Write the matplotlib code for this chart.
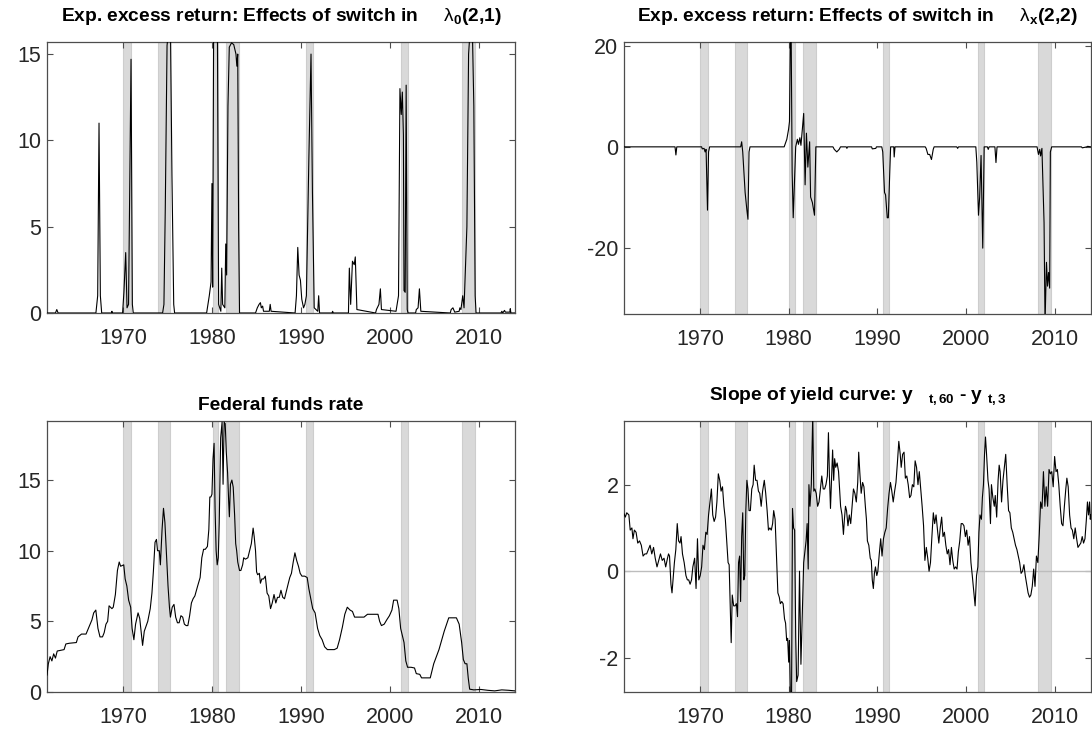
import matplotlib
matplotlib.use("Agg")
import matplotlib.pyplot as plt

plt.rcParams['font.family'] = ['Liberation Sans', 'DejaVu Sans']
plt.rcParams['mathtext.fontset'] = 'custom'
plt.rcParams['mathtext.rm'] = 'Liberation Sans'
plt.rcParams['mathtext.bf'] = 'Liberation Sans:bold'
plt.rcParams['mathtext.it'] = 'Liberation Sans:italic'
plt.rcParams['axes.unicode_minus'] = False

# ---------------- data ----------------
recessions_start = [1970.0, 1973.95, 1980.08, 1981.6, 1990.62, 2001.3, 2008.1]
recessions_end   = [1970.95, 1975.32, 1980.7, 1983.07, 1991.33, 2002.04, 2009.6]

# Exp. excess return: effects of switch in lambda_0(2,1)
lam0_t = [1961.45, 1962.4, 1962.55, 1962.7, 1966.95, 1967.15, 1967.3, 1967.45, 1967.6,
          1968.7, 1968.75, 1968.8,
          1969.95, 1970.1, 1970.3, 1970.45, 1970.62, 1970.9, 1971.05, 1971.15,
          1974.45, 1974.6, 1974.75, 1974.95, 1975.15, 1975.35, 1975.5, 1975.7, 1975.8,
          1979.4, 1979.7, 1979.9, 1980.0, 1980.08, 1980.2, 1980.6, 1980.75,
          1981.0, 1981.1, 1981.2, 1981.45, 1981.55, 1981.65, 1981.8, 1981.95,
          1982.2, 1982.45, 1982.7, 1982.8, 1982.9, 1983.0, 1983.1,
          1984.9, 1985.1, 1985.3, 1985.45, 1985.55, 1985.7, 1985.8, 1986.45, 1986.55, 1986.65,
          1989.35, 1989.5, 1989.65, 1989.8, 1989.95, 1990.1, 1990.3, 1990.45, 1990.62,
          1990.9, 1991.14, 1991.3, 1991.5, 1991.9, 1992.0, 1992.1, 1993.5, 1993.57, 1993.65,
          1995.35, 1995.45, 1995.6, 1995.8, 1996.0, 1996.12, 1996.3,
          1998.4, 1998.5, 1998.78, 1998.94, 1999.06,
          2000.7, 2000.82, 2000.98, 2001.14, 2001.29, 2001.41, 2001.53, 2001.6, 2001.73,
          2001.84, 2001.96, 2002.05,
          2002.9, 2002.98, 2003.18, 2003.33, 2003.49,
          2006.8, 2006.9, 2007.1, 2007.3, 2007.8, 2007.88, 2008.0, 2008.2, 2008.35,
          2008.67, 2008.86, 2009.05, 2009.3, 2009.45, 2009.6, 2009.7,
          2012.5, 2012.6, 2012.7, 2012.9, 2013.0, 2013.5, 2013.55, 2013.62, 2014.08]
lam0_v = [0, 0, 0.2, 0, 0, 1.0, 11.0, 1.0, 0,
          0, 0.1, 0,
          0, 1.2, 3.5, 0.3, 0.5, 14.7, 0.5, 0,
          0, 0.5, 6.0, 15.5, 16.5, 15.8, 8.0, 0.5, 0,
          0, 1.0, 1.8, 7.5, 1.5, 18.0, 18.0, 0.5,
          0.1, 2.6, 0.5, 0.3, 4.0, 2.2, 12.0, 15.4,
          15.65, 15.55, 15.0, 14.3, 15.0, 5.0, 0,
          0, 0.3, 0.5, 0.6, 0.3, 0.4, 0.1, 0.1, 0.5, 0.1,
          0, 1.0, 3.8, 2.2, 1.9, 0.8, 0.3, 0.5, 1.0,
          9.0, 15.0, 7.0, 0.3, 0.1, 1.0, 0, 0, 0.1, 0,
          0, 2.6, 0.5, 3.0, 2.8, 3.25, 0.2,
          0, 0.2, 0.5, 1.4, 0.2,
          0.1, 0.5, 1.0, 13.0, 11.5, 12.8, 10.3, 1.3, 1.2,
          13.2, 0.2, 0,
          0, 0.2, 0.3, 1.4, 0.1,
          0, 0.2, 0.3, 0.05, 0.1, 0.3, 0.2, 1.0, 0.3,
          5.0, 15.0, 16.5, 16.0, 12.0, 1.0, 0,
          0, 0.1, 0, 0.15, 0.05, 0.05, 0.25, 0, 0]

# Exp. excess return: effects of switch in lambda_x(2,2)
lamx_t = [1961.45, 1967.2, 1967.3, 1967.4,
          1970.2, 1970.27, 1970.47, 1970.59, 1970.7, 1970.86, 1970.98, 1971.1,
          1974.6, 1974.71, 1974.83, 1975.1, 1975.3, 1975.42, 1975.54, 1975.65,
          1979.5, 1979.8, 1980.0, 1980.1, 1980.2, 1980.29, 1980.4, 1980.52, 1980.68, 1980.8,
          1980.99, 1981.11, 1981.27, 1981.39, 1981.55, 1981.7, 1981.86, 1982.01, 1982.17,
          1982.37, 1982.48, 1982.68, 1982.92, 1983.07,
          1985.0, 1985.15, 1985.43, 1985.7, 1985.85, 1986.5, 1986.57, 1986.65,
          1989.35, 1989.43, 1989.83, 1989.9,
          1990.5, 1990.61, 1990.81, 1990.93, 1991.12, 1991.24, 1991.4, 1991.5, 1991.85, 1991.9, 1991.99,
          1995.4, 1995.5, 1995.7, 1995.9, 1996.1, 1996.3, 1996.4,
          1998.95, 1999.05, 1999.15,
          2001.1, 2001.21, 2001.4, 2001.53, 2001.69, 2001.88, 2002.04,
          2002.4, 2002.5, 2002.6, 2003.25, 2003.37, 2003.49,
          2008.0, 2008.16, 2008.3, 2008.4, 2008.55, 2008.79, 2008.9, 2009.06, 2009.18,
          2009.3, 2009.42, 2009.5, 2009.65,
          2013.0, 2013.1, 2013.6, 2013.7, 2014.08]
lamx_v = [0, 0, -1.6, 0,
          0, -0.4, -0.3, -1.0, -0.5, -12.5, -1.0, 0,
          0, 1.0, -1.0, -9.0, -12.5, -14.3, -1.0, 0,
          0, 1.5, 3.5, 5.0, 22.0, 22.0, -5.0, -14.0, -6.0, 0,
          1.5, 0.5, 1.8, 0.3, 3.5, 6.6, -7.5, 2.7, -4.0,
          1.0, -9.9, -11.0, -13.5, 0,
          0, -0.5, -1.0, -0.5, 0, 0, -0.3, 0,
          0, -0.4, -0.3, 0,
          0, -1.0, -9.0, -9.5, -14.0, -14.0, -5.0, 0, 0, -2.0, 0,
          0, -0.3, -1.5, -1.5, -2.5, -0.5, 0,
          0, -0.3, 0,
          0, -3.0, -13.5, -10.0, -1.7, -20.0, 0,
          0, -0.5, 0, 0, -3.1, 0,
          0, -1.5, -0.5, -1.8, -0.3, -15.0, -35.0, -22.8, -27.5,
          -24.8, -27.9, -1.0, 0,
          0, -0.2, 0, 0.1, 0]

# Federal funds rate
ffr_t = [1961.45, 1961.6, 1961.8, 1962.0, 1962.2, 1962.4, 1962.6, 1963.0, 1963.37, 1963.57,
         1963.96, 1964.75, 1964.94, 1965.33, 1965.84, 1966.1, 1966.5, 1966.7, 1966.94, 1967.18,
         1967.41, 1967.69, 1967.88, 1968.08, 1968.27, 1968.43, 1968.75, 1968.9, 1969.14, 1969.37,
         1969.57, 1969.73, 1970.08, 1970.24, 1970.43, 1970.63, 1970.86, 1971.02, 1971.22, 1971.41,
         1971.69, 1971.88, 1972.2, 1972.39, 1972.78, 1973.06, 1973.25, 1973.41, 1973.6, 1973.76,
         1973.88, 1974.08, 1974.2, 1974.39, 1974.55, 1974.71, 1974.86, 1975.06, 1975.22, 1975.33,
         1975.53, 1975.73, 1975.92, 1976.12, 1976.31, 1976.51, 1976.71, 1976.9, 1977.1, 1977.29,
         1977.49, 1977.69, 1977.88, 1978.08, 1978.39, 1978.67, 1978.86, 1979.06, 1979.25, 1979.49,
         1979.65, 1979.76, 1979.88, 1980.0, 1980.12, 1980.24, 1980.35, 1980.47, 1980.59, 1980.71,
         1980.82, 1980.98, 1981.14, 1981.25, 1981.37, 1981.49, 1981.61, 1981.76, 1981.88, 1981.96,
         1982.08, 1982.24, 1982.39, 1982.55, 1982.67, 1982.78, 1982.9, 1983.1, 1983.25, 1983.45,
         1983.57, 1983.76, 1984.04, 1984.24, 1984.43, 1984.63, 1984.75, 1984.9, 1985.02, 1985.14,
         1985.33, 1985.45, 1985.61, 1985.8, 1986.0, 1986.2, 1986.39, 1986.59, 1986.78, 1986.98,
         1987.18, 1987.37, 1987.57, 1987.76, 1987.96, 1988.16, 1988.35, 1988.55, 1988.75, 1988.94,
         1989.14, 1989.33, 1989.53, 1989.73, 1989.92, 1990.12, 1990.43, 1990.71, 1990.9, 1991.14,
         1991.33, 1991.6, 1991.88, 1992.12, 1992.39, 1992.67, 1992.98, 1993.37, 1993.76, 1994.08,
         1994.35, 1994.67, 1994.94, 1995.22, 1995.53, 1995.8, 1996.04, 1996.51, 1997.1, 1997.49,
         1997.88, 1998.27, 1998.67, 1998.86, 1999.06, 1999.37, 1999.65, 1999.96, 2000.24, 2000.43,
         2000.82, 2001.02, 2001.22, 2001.41, 2001.6, 2001.8, 2002.0, 2002.39, 2002.78, 2002.98,
         2003.37, 2003.57, 2004.55, 2004.94, 2005.53, 2006.12, 2006.63, 2007.49, 2007.8, 2008.08,
         2008.27, 2008.47, 2008.67, 2008.82, 2008.98, 2009.45, 2010.24, 2011.02, 2011.8, 2012.59,
         2013.37, 2014.08]
ffr_v = [1.2, 2.0, 2.5, 2.2, 2.7, 2.4, 2.9, 2.95, 3.0, 3.4,
         3.45, 3.5, 3.9, 4.1, 4.1, 4.5, 5.1, 5.6, 5.8, 4.5,
         3.9, 3.9, 4.2, 4.8, 5.0, 6.1, 5.9, 6.0, 6.9, 8.6,
         9.2, 8.9, 9.0, 8.0, 7.5, 6.5, 6.0, 4.5, 3.7, 4.8,
         5.6, 5.2, 3.3, 4.3, 5.0, 5.9, 7.0, 8.5, 10.6, 10.8,
         10.0, 10.0, 9.0, 11.5, 13.0, 12.0, 10.0, 7.5, 6.0, 5.3,
         6.0, 6.2, 5.3, 4.9, 4.9, 5.4, 5.3, 4.8, 4.7, 4.7,
         5.4, 6.3, 6.6, 6.8, 7.5, 8.1, 9.5, 10.1, 10.1, 10.3,
         11.5, 13.8, 13.8, 14.0, 16.5, 17.6, 13.0, 10.0, 9.0, 9.5,
         12.0, 18.0, 19.1, 14.7, 19.1, 19.0, 17.0, 15.5, 13.5, 12.4,
         14.7, 15.0, 14.5, 12.5, 10.5, 10.0, 9.2, 8.6, 8.6, 9.0,
         9.5, 9.4, 9.5, 10.0, 10.5, 11.6, 11.0, 10.0, 8.5, 8.3,
         8.4, 7.7, 8.0, 8.0, 8.2, 7.0, 6.8, 5.9, 6.3, 6.9,
         6.3, 6.7, 6.7, 7.2, 6.7, 6.6, 7.1, 7.6, 8.1, 8.4,
         9.2, 9.85, 9.3, 8.9, 8.4, 8.2, 8.2, 8.1, 7.3, 6.5,
         5.9, 5.6, 4.5, 4.0, 3.7, 3.2, 3.0, 3.0, 3.0, 3.1,
         3.7, 4.6, 5.5, 6.0, 5.8, 5.7, 5.3, 5.3, 5.3, 5.5,
         5.5, 5.5, 5.5, 5.0, 4.7, 4.8, 5.1, 5.4, 5.8, 6.5,
         6.5, 5.9, 4.5, 4.0, 3.5, 2.2, 1.75, 1.75, 1.7, 1.3,
         1.25, 1.0, 1.0, 2.0, 3.0, 4.3, 5.25, 5.25, 4.8, 3.5,
         2.3, 2.0, 2.0, 1.0, 0.2, 0.15, 0.18, 0.12, 0.08, 0.15,
         0.12, 0.08]

# Slope of yield curve: y(t,60) - y(t,3)
slope_t = [1961.44, 1961.6, 1961.76, 1962.0, 1962.15, 1962.34, 1962.46, 1962.62, 1962.81, 1963.0,
           1963.2, 1963.4, 1963.6, 1963.8, 1964.0, 1964.19, 1964.39, 1964.58, 1964.78, 1964.97,
           1965.17, 1965.37, 1965.56, 1965.76, 1965.96, 1966.15, 1966.35, 1966.47, 1966.58, 1966.74,
           1966.86, 1966.98, 1967.13, 1967.29, 1967.45, 1967.6, 1967.76, 1967.88, 1968.04, 1968.23,
           1968.43, 1968.59, 1968.74, 1968.9, 1969.06, 1969.21, 1969.41, 1969.57, 1969.73, 1969.88,
           1970.04, 1970.2, 1970.35, 1970.51, 1970.67, 1970.82, 1970.98, 1971.14, 1971.3, 1971.45,
           1971.61, 1971.77, 1971.92, 1972.08, 1972.24, 1972.39, 1972.55, 1972.71, 1972.87, 1973.06,
           1973.18, 1973.3, 1973.42, 1973.53, 1973.65, 1973.81, 1973.97, 1974.12, 1974.24, 1974.36,
           1974.48, 1974.59, 1974.71, 1974.83, 1974.95, 1975.06, 1975.18, 1975.3, 1975.42, 1975.54,
           1975.69, 1975.85, 1976.0, 1976.12, 1976.28, 1976.44, 1976.6, 1976.75, 1976.91, 1977.07,
           1977.26, 1977.42, 1977.58, 1977.73, 1977.89, 1978.05, 1978.2, 1978.32, 1978.48, 1978.64,
           1978.79, 1978.95, 1979.07, 1979.23, 1979.38, 1979.54, 1979.66, 1979.78, 1979.89, 1980.01,
           1980.09, 1980.21, 1980.33, 1980.44, 1980.56, 1980.68, 1980.8, 1980.91, 1981.07, 1981.23,
           1981.39, 1981.54, 1981.7, 1981.86, 1981.97, 1982.09, 1982.21, 1982.29, 1982.41, 1982.56,
           1982.72, 1982.84, 1982.96, 1983.11, 1983.27, 1983.43, 1983.58, 1983.74, 1983.9, 1984.06,
           1984.21, 1984.37, 1984.49, 1984.6, 1984.72, 1984.84, 1984.96, 1985.08, 1985.19, 1985.31,
           1985.47, 1985.63, 1985.74, 1985.86, 1986.02, 1986.18, 1986.29, 1986.41, 1986.53, 1986.69,
           1986.84, 1987.0, 1987.16, 1987.31, 1987.47, 1987.63, 1987.79, 1987.9, 1988.02, 1988.18,
           1988.34, 1988.49, 1988.65, 1988.77, 1988.88, 1989.04, 1989.2, 1989.32, 1989.43, 1989.55,
           1989.67, 1989.79, 1989.94, 1990.06, 1990.22, 1990.38, 1990.53, 1990.69, 1990.85, 1991.0,
           1991.16, 1991.32, 1991.48, 1991.63, 1991.79, 1991.95, 1992.1, 1992.26, 1992.42, 1992.58,
           1992.69, 1992.85, 1993.01, 1993.16, 1993.32, 1993.48, 1993.64, 1993.79, 1993.95, 1994.11,
           1994.26, 1994.42, 1994.58, 1994.73, 1994.89, 1995.05, 1995.21, 1995.36, 1995.52, 1995.68,
           1995.83, 1995.99, 1996.15, 1996.31, 1996.46, 1996.62, 1996.78, 1996.93, 1997.09, 1997.25,
           1997.4, 1997.56, 1997.72, 1997.88, 1998.03, 1998.19, 1998.35, 1998.5, 1998.66, 1998.82,
           1998.98, 1999.13, 1999.29, 1999.45, 1999.6, 1999.76, 1999.92, 2000.07, 2000.23, 2000.39,
           2000.55, 2000.7, 2000.86, 2001.02, 2001.18, 2001.33, 2001.45, 2001.57, 2001.73, 2001.84,
           2001.96, 2002.08, 2002.19, 2002.31, 2002.47, 2002.59, 2002.75, 2002.86, 2003.02, 2003.18,
           2003.29, 2003.45, 2003.61, 2003.73, 2003.84, 2004.0, 2004.16, 2004.32, 2004.47, 2004.63,
           2004.79, 2004.94, 2005.1, 2005.26, 2005.41, 2005.57, 2005.73, 2005.89, 2006.04, 2006.2,
           2006.36, 2006.52, 2006.67, 2006.83, 2006.99, 2007.15, 2007.3, 2007.46, 2007.62, 2007.77,
           2007.93, 2008.09, 2008.25, 2008.4, 2008.56, 2008.72, 2008.88, 2009.03, 2009.19, 2009.35,
           2009.5, 2009.66, 2009.82, 2009.98, 2010.14, 2010.29, 2010.45, 2010.61, 2010.77, 2010.92,
           2011.08, 2011.24, 2011.36, 2011.51, 2011.67, 2011.83, 2011.98, 2012.14, 2012.3, 2012.46,
           2012.61, 2012.77, 2012.93, 2013.09, 2013.24, 2013.4, 2013.56, 2013.68, 2013.8, 2013.92,
           2014.0, 2014.08]
slope_v = [1.33, 1.25, 1.35, 1.3, 0.95, 1.0, 0.75, 0.95, 0.9, 0.65,
           0.7, 0.6, 0.35, 0.4, 0.4, 0.5, 0.6, 0.4, 0.55, 0.3,
           0.1, 0.25, 0.4, 0.25, 0.3, 0.1, 0.3, 0.4, 0.35, -0.3,
           -0.5, -0.2, 0.2, 0.5, 1.1, 0.7, 0.65, 0.8, 0.4, 0.2,
           -0.1, -0.2, -0.2, -0.3, -0.2, 0.1, 0.3, -0.4, 0.75, -0.2,
           -0.1, 0.1, 0.6, 0.5, 0.9, 0.85, 1.3, 1.6, 1.9, 1.3,
           1.15, 1.25, 1.6, 2.25, 2.1, 1.85, 1.95, 1.5, 1.2, 0.6,
           0.2, 0.15, -0.8, -1.65, -0.55, -0.8, -0.8, -0.75, -1.05, 0.2,
           0.35, -0.7, 0.8, 1.35, -0.2, -0.1, 1.4, 2.1, 1.9, 1.4,
           1.4, 1.9, 2.0, 2.45, 2.1, 2.1, 1.85, 1.8, 1.5, 1.85,
           2.1, 1.8, 1.4, 0.95, 1.0, 0.95, 1.1, 1.4, 1.2, 0.3,
           -0.5, -0.6, -0.75, -0.7, -0.75, -1.1, -1.2, -1.6, -1.55, -2.1,
           -1.6, -3.0, -3.0, 1.45, 1.0, 0.95, -1.5, -2.55, -2.4, 0.0,
           -2.15, -1.0, 0.2, 0.5, 0.7, 1.1, 0.05, 2.0, 1.5, 2.0,
           3.6, 1.85, 1.9, 1.8, 1.5, 1.6, 1.9, 2.2, 1.9, 1.9,
           2.0, 2.2, 3.2, 2.2, 1.45, 2.1, 2.8, 2.1, 2.6, 2.4,
           2.5, 2.3, 1.9, 1.5, 1.3, 0.85, 1.2, 1.5, 1.4, 1.05,
           1.3, 1.1, 1.5, 1.9, 1.8, 1.6, 2.05, 2.75, 2.3, 1.8,
           2.05, 1.95, 1.5, 1.2, 0.7, 0.6, 0.3, 0.25, -0.2, -0.4,
           -0.05, 0.1, -0.1, 0.0, 0.4, 0.75, 0.35, 0.75, 0.9, 1.0,
           1.45, 1.8, 2.05, 1.85, 1.6, 1.85, 2.05, 2.5, 3.0, 2.7,
           2.4, 2.7, 2.75, 2.15, 2.2, 2.0, 1.7, 1.75, 2.0, 1.95,
           2.55, 2.4, 2.0, 2.3, 1.9, 1.5, 1.05, 0.25, 0.55, 0.3,
           0.0, 0.2, 0.8, 1.35, 1.1, 1.3, 0.95, 0.65, 1.0, 1.25,
           0.8, 0.9, 0.6, 0.4, 0.5, 0.15, 0.55, 0.25, 0.05, 0.1,
           0.05, 0.45, 0.7, 1.1, 1.1, 1.05, 0.8, 0.95, 0.6, 0.8,
           0.2, -0.1, -0.45, -0.8, -0.1, 0.1, 0.9, 1.3, 1.2, 1.7,
           2.0, 2.7, 3.1, 2.7, 2.1, 1.9, 1.1, 2.0, 1.7, 1.5,
           1.75, 1.25, 2.1, 2.45, 2.3, 1.6, 2.1, 2.4, 2.7, 2.0,
           1.4, 1.35, 1.0, 0.9, 0.75, 0.6, 0.5, 0.35, 0.2, -0.05,
           0.0, 0.15, -0.1, -0.3, -0.5, -0.6, -0.55, -0.35, 0.05, -0.35,
           0.35, 0.2, 0.85, 1.6, 1.45, 2.3, 1.5, 1.95, 1.5, 2.35,
           2.25, 2.3, 1.95, 2.65, 2.3, 2.35, 2.0, 1.5, 1.1, 1.05,
           1.5, 1.9, 2.15, 1.95, 1.3, 1.0, 0.95, 0.75, 1.0, 0.75,
           0.55, 0.6, 0.65, 0.8, 0.65, 0.75, 1.2, 1.6, 1.3, 1.6,
           1.2, 1.3]

xticks = [1970, 1980, 1990, 2000, 2010]
titles = [r'Exp. excess return: Effects of switch in     $\mathrm{\lambda}_{\mathbf{0}}$(2,1)',
          r'Exp. excess return: Effects of switch in     $\mathrm{\lambda}_{\mathbf{x}}$(2,2)',
          'Federal funds rate',
          r'Slope of yield curve: y   ${}_{\mathbf{t,60}}$ - y ${}_{\mathbf{t,3}}$']

# ---------------- figure ----------------
W, H = 1092, 735
fig = plt.figure(figsize=(W / 100, H / 100), dpi=100)

def box(l, t, r, b):
    return [l / W, 1 - b / H, (r - l) / W, (b - t) / H]

panels = [
    dict(pos=box(47, 42, 515, 313), t=lam0_t, v=lam0_v, ylim=(0, 15.7), yticks=[0, 5, 10, 15], pad=15, zero=False),
    dict(pos=box(624, 42, 1091, 314), t=lamx_t, v=lamx_v, ylim=(-33, 20.7), yticks=[-20, 0, 20], pad=15, zero=False),
    dict(pos=box(47, 421, 515, 692), t=ffr_t, v=ffr_v, ylim=(0, 19.18), yticks=[0, 5, 10, 15], pad=8, zero=False),
    dict(pos=box(624, 421, 1091, 692), t=slope_t, v=slope_v, ylim=(-2.79, 3.47), yticks=[-2, 0, 2], pad=15, zero=True),
]

for p, title in zip(panels, titles):
    ax = fig.add_axes(p['pos'])
    for s, e in zip(recessions_start, recessions_end):
        ax.axvspan(s, e, facecolor='#d9d9d9', edgecolor='#cdcdcd', linewidth=0.8, zorder=1)
    if p['zero']:
        ax.axhline(0, color='#bdbdbd', linewidth=1.0, zorder=2)
    ax.plot(p['t'], p['v'], color='black', linewidth=0.8, zorder=3)
    ax.set_xlim(1961.45, 2014.08)
    ax.set_ylim(*p['ylim'])
    ax.set_xticks(xticks)
    ax.set_yticks(p['yticks'])
    ax.tick_params(direction='in', length=4, width=0.8, top=True, right=True,
                   labelsize=15.5, colors='#4d4d4d', labelcolor='#262626')
    ax.tick_params(axis='x', pad=11)
    ax.tick_params(axis='y', pad=4)
    for sp in ax.spines.values():
        sp.set_color('#4d4d4d')
        sp.set_linewidth(0.9)
    ax.set_title(title, fontsize=13.8, fontweight='bold', pad=p['pad'], color='black')

fig.savefig('out.png', dpi=100)
